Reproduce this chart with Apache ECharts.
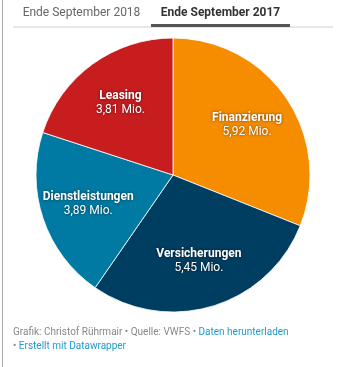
<!DOCTYPE html>
<html>
<head>
<meta charset="utf-8">
<script src="https://cdn.jsdelivr.net/npm/echarts@6/dist/echarts.min.js"></script>
<style>
html,body{margin:0;padding:0;background:#fff;}
#c{width:361px;height:367px;}
</style>
</head>
<body>
<div id="c"></div>
<script>
const categories = ['Finanzierung', 'Versicherungen', 'Dienstleistungen', 'Leasing'];
const values = [5.92, 5.45, 3.89, 3.81];
const valueText = ['5,92 Mio.', '5,45 Mio.', '3,89 Mio.', '3,81 Mio.'];
const colors = ['#F68D00', '#003E61', '#007AA3', '#C81D1F'];
const tabs = ['Ende September 2018', 'Ende September 2017'];

const chart = echarts.init(document.getElementById('c'));
const data = categories.map((n, i) => ({ name: n, value: values[i], itemStyle: { color: colors[i] } }));
const FONT = 'Roboto, "Noto Sans", sans-serif';
chart.setOption({
  animation: false,
  graphic: [
    { type: 'rect', shape: { x: 2, y: 0, width: 1, height: 367 }, style: { fill: '#a8a8a8' } },
    { type: 'text', x: 81.5, y: 13, style: { text: tabs[0], fill: '#666', font: '12px ' + FONT, textAlign: 'center', textVerticalAlign: 'middle' } },
    { type: 'text', x: 220.5, y: 13, style: { text: tabs[1], fill: '#333', font: 'bold 12px ' + FONT, textAlign: 'center', textVerticalAlign: 'middle' } },
    { type: 'rect', shape: { x: 13, y: 26.5, width: 320, height: 1 }, style: { fill: '#d0d0d0' } },
    { type: 'rect', shape: { x: 151, y: 24, width: 139, height: 3 }, style: { fill: '#555' } },
    { type: 'text', x: 13, y: 325, style: {
        text: '{g|Grafik: Christof Rührmair • Quelle: VWFS • }{b|Daten herunterladen}\n{g|• }{b|Erstellt mit Datawrapper}',
        lineHeight: 14,
        rich: {
          g: { fill: '#888', font: '10px ' + FONT, lineHeight: 14 },
          b: { fill: '#1d9bd1', font: '10px ' + FONT, lineHeight: 14 }
        }
    } }
  ],
  series: [
    {
      type: 'pie', center: [173, 175], radius: [0, 137], startAngle: 90, clockwise: true,
      data: data, label: { show: false }, labelLine: { show: false },
      itemStyle: { borderColor: 'rgba(255,255,255,0.8)', borderWidth: 1 },
      emphasis: { disabled: true }
    },
    {
      type: 'pie', center: [173, 175], radius: [36, 137], startAngle: 90, clockwise: true,
      silent: true, z: 3,
      data: data.map((d, i) => ({ name: d.name, value: d.value, itemStyle: { color: 'rgba(0,0,0,0)' } })),
      itemStyle: { borderWidth: 0 },
      labelLine: { show: false },
      label: {
        show: true, position: 'inside',
        formatter: p => '{n|' + p.name + '}\n{v|' + valueText[p.dataIndex] + '}',
        rich: {
          n: { color: '#fff', fontFamily: FONT, fontWeight: 'bold', fontSize: 12, lineHeight: 14,
               textShadowColor: 'rgba(0,0,0,0.6)', textShadowBlur: 3 },
          v: { color: '#fff', fontFamily: FONT, fontSize: 12, lineHeight: 14,
               textShadowColor: 'rgba(0,0,0,0.6)', textShadowBlur: 3 }
        }
      },
      emphasis: { disabled: true }
    }
  ]
});
</script>
</body>
</html>
